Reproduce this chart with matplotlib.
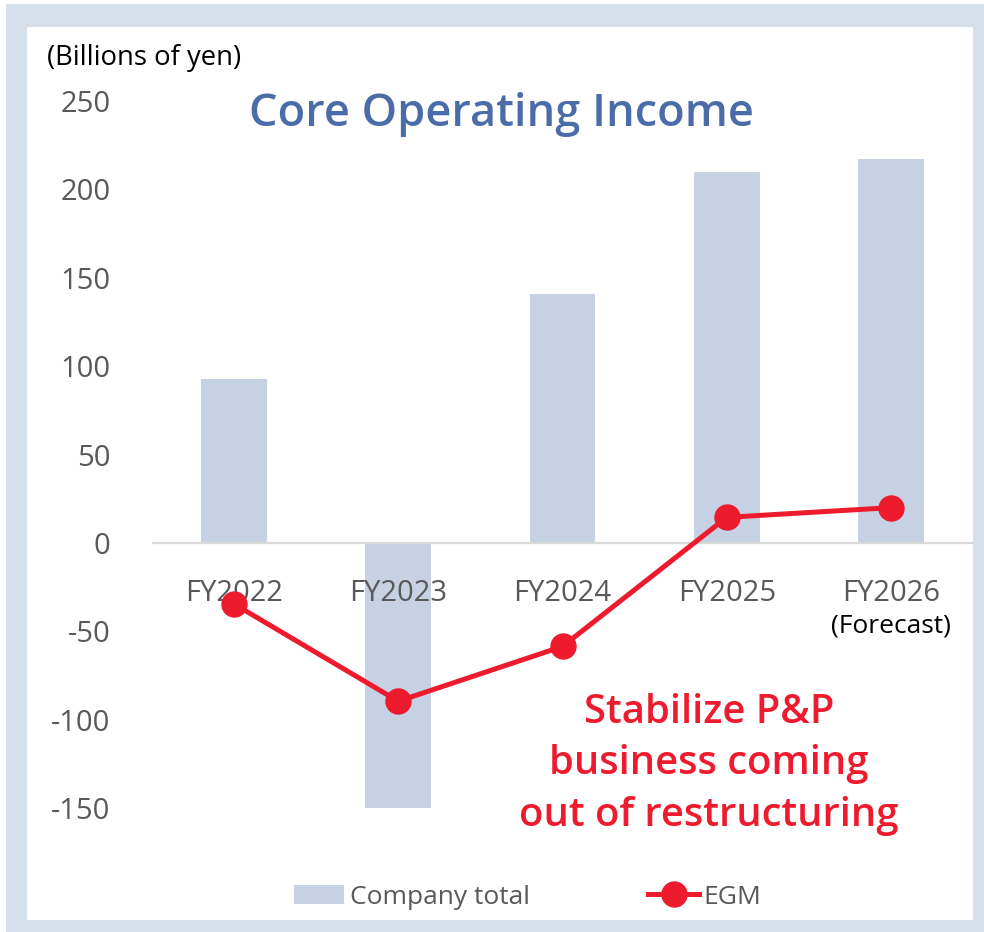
import matplotlib
matplotlib.use("Agg")
import matplotlib.pyplot as plt
from matplotlib.patches import Rectangle
from matplotlib.lines import Line2D
from matplotlib.patches import Patch

plt.rcParams['font.family'] = ['Open Sans', 'DejaVu Sans']

# data (billions of yen)
years = ['FY2022', 'FY2023', 'FY2024', 'FY2025', 'FY2026']
company_total = [93, -150, 141, 210, 217]
egm = [-34.5, -89.5, -58.5, 14.5, 20]
yticks = [-150, -100, -50, 0, 50, 100, 150, 200, 250]

bar_color = '#c6d2e4'
red = '#ed1b2d'
grey_txt = '#595959'

fig = plt.figure(figsize=(9.84, 9.32), dpi=100)
W, H = 984, 932

# frame
fig.patches.append(Rectangle((6 / W, 0), 1 - 6 / W, (H - 4) / H, transform=fig.transFigure,
                             facecolor='#d6e0ea', edgecolor='none', zorder=0))
fig.patches.append(Rectangle((27 / W, 1 - 920 / H), (973 - 27) / W, (920 - 27) / H,
                             transform=fig.transFigure, facecolor='white', edgecolor='none', zorder=0))

# axes: 0 at y=543px, 1 unit = 1.768 px
ymin, ymax = -170, 255
top_px = 543 - 1.768 * ymax
bot_px = 543 - 1.768 * ymin
ax = fig.add_axes([152 / W, 1 - bot_px / H, (973 - 152) / W, (bot_px - top_px) / H])
ax.set_facecolor('none')
ax.set_zorder(2)

x = list(range(len(years)))
ax.bar(x, company_total, width=0.4, color=bar_color, zorder=2)
ax.axhline(0, color='#d9d9d9', lw=1.6, zorder=3)
ax.plot(x, egm, color=red, lw=3.6, marker='o', markersize=18, zorder=4)

ax.set_xlim(-0.5, 4.5)
ax.set_ylim(ymin, ymax)
for s in ax.spines.values():
    s.set_visible(False)
ax.set_yticks(yticks)
ax.set_yticklabels([str(v) for v in yticks])
ax.tick_params(axis='y', length=0, pad=30, labelsize=21, labelcolor=grey_txt)
ax.set_xticks([])

for i, lab in enumerate(years):
    ax.text(i, -32.8, lab, ha='center', va='baseline', fontsize=21, color=grey_txt, zorder=3)
ax.text(4, -50.5, '(Forecast)', ha='center', va='baseline', fontsize=19, color='black', zorder=3)

# red message
msg = ['Stabilize P&P', 'business coming', 'out of restructuring']
for k, line in enumerate(msg):
    fig.text(709 / W, 1 - (723 + 51.5 * k) / H, line, ha='center', va='baseline',
             fontsize=28.8, fontweight='semibold', color=red)

fig.text(501 / W, 1 - 126 / H, 'Core Operating Income', ha='center', va='baseline',
         fontsize=32.5, fontweight='semibold', color='#4a6ca8')
fig.text(47 / W, 1 - 65 / H, '(Billions of yen)', ha='left', va='baseline',
         fontsize=19.8, color='black')

handles = [Patch(facecolor=bar_color, edgecolor='none'),
           Line2D([], [], color=red, lw=3.6, marker='o', markersize=18)]
leg = fig.legend(handles, ['Company total', 'EGM'], loc='center', ncol=2,
                 bbox_to_anchor=(528 / W, 1 - 897 / H), frameon=False, fontsize=19,
                 handlelength=1.9, handletextpad=0.2, columnspacing=4.5, labelcolor=grey_txt)

fig.savefig('out.png', dpi=100)
